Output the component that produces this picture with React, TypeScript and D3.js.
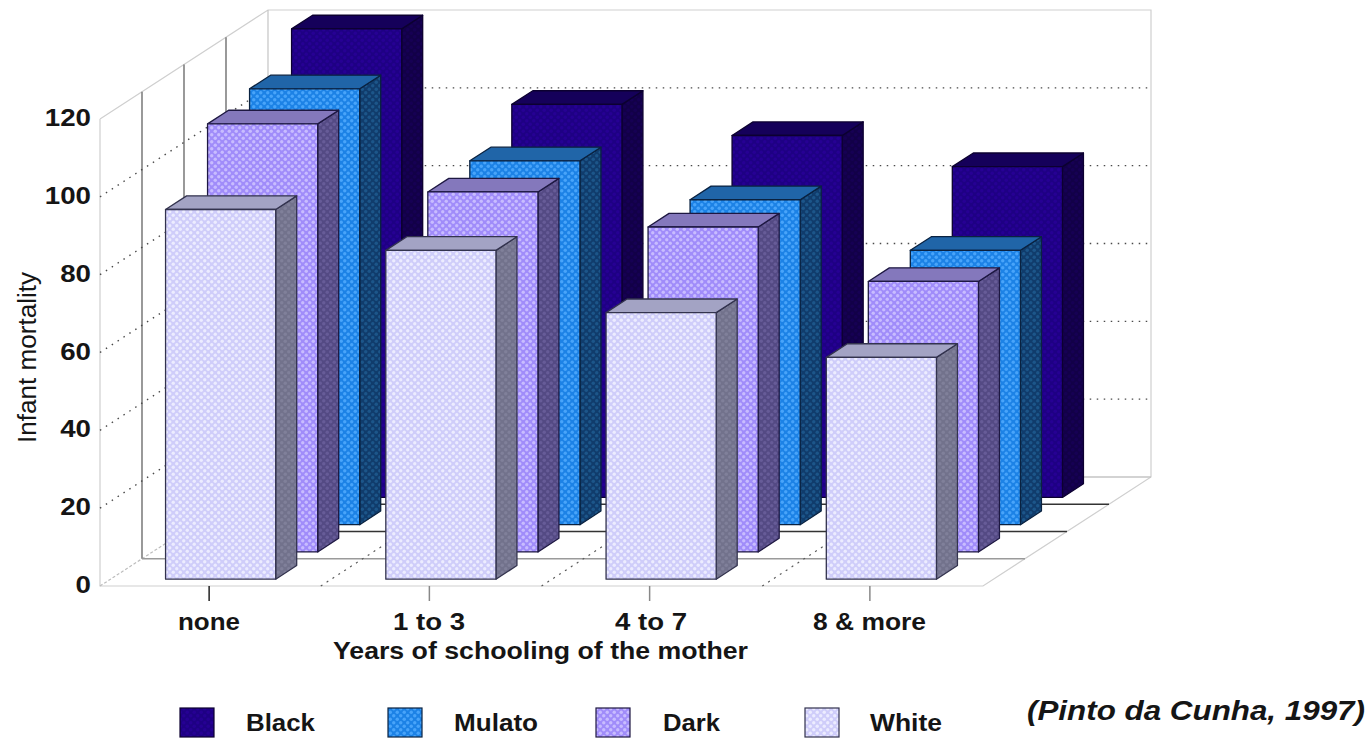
import React from "react";
import * as d3 from "d3";

// Infant mortality by mother's schooling and colour group
const schooling = ["none", "1 to 3", "4 to 7", "8 & more"];
const seriesNames = ["White", "Dark", "Mulato", "Black"];
const whiteValues = [95, 84.5, 68.5, 57];
const darkValues = [110, 92.5, 83.5, 69.5];
const mulatoValues = [112, 93.5, 83.5, 70.5];
const blackValues = [120.4, 101, 93, 85];
const seriesValues = [whiteValues, darkValues, mulatoValues, blackValues];
const valueTicks = [0, 20, 40, 60, 80, 100, 120];

// base, dot, top-face and side-face tones per series
const faceTones = [
  { key: "white", base: "#cfcdfa", dot: "#ececff", top: "#a3a3c4", side: "#72728c", sideDot: "#80809a", edge: "#33334e" },
  { key: "dark", base: "#a08cfa", dot: "#c8bcff", top: "#8478bc", side: "#544a84", sideDot: "#675c98", edge: "#1e1842" },
  { key: "mulato", base: "#1c82e6", dot: "#48a4fa", top: "#2065a8", side: "#103c6c", sideDot: "#1c568a", edge: "#0a2240" },
  { key: "black", base: "#1e0084", dot: "#260094", top: "#15005a", side: "#120048", sideDot: "#160054", edge: "#0c0030" },
];

const legendX = [180, 388, 596, 805];
const legendTextX = [246, 454, 663, 870];
const legendTextW = [69, 84, 57, 72];
const legendOrder = [3, 2, 1, 0];

const catLabelX = [178, 393, 615, 813];
const catLabelW = [62, 72, 72, 113];

const floorLeft = 100;
const floorRight = 983;
const floorY = 586;
const depthX = 168;
const depthY = -109;

const xBand = d3.scaleBand<string>().domain(schooling).range([floorLeft, floorRight - 2]).paddingInner(0.5).paddingOuter(0.25);
const xStep = d3.scaleBand<string>().domain(schooling).range([floorLeft, floorRight]);
const yValue = d3.scaleLinear().domain([0, 120]).range([0, 467]);
const dX = d3.scaleLinear().domain([0, 4]).range([0, depthX]);
const dY = d3.scaleLinear().domain([0, 4]).range([0, depthY]);

// oblique projection of (x on floor, value, depth slot)
const proj = (x: number, v: number, d: number): [number, number] => [x + dX(d), floorY - yValue(v) + dY(d)];
const poly = d3.line();

const FONT = "'Liberation Sans', Arial, sans-serif";

function Label(p: { x: number; y: number; w: number; size?: number; weight?: string; style?: string; rotate?: boolean; children: string }) {
  const { x, y, w, size = 23, weight = "bold", style = "normal", rotate, children } = p;
  return (
    <text
      x={x}
      y={y}
      transform={rotate ? `rotate(-90 ${x} ${y})` : undefined}
      textLength={w}
      lengthAdjust="spacingAndGlyphs"
      fontFamily={FONT}
      fontSize={size}
      fontWeight={weight}
      fontStyle={style}
      fill="#151515"
    >
      {children}
    </text>
  );
}

function Bar({ row, cat }: { row: number; cat: number }) {
  const t = faceTones[row];
  const v = seriesValues[row][cat];
  const x0 = xBand(schooling[cat])!;
  const x1 = x0 + xBand.bandwidth();
  const d0 = row + 0.25;
  const d1 = row + 0.75;
  const front = [proj(x0, 0, d0), proj(x1, 0, d0), proj(x1, v, d0), proj(x0, v, d0)];
  const top = [proj(x0, v, d0), proj(x1, v, d0), proj(x1, v, d1), proj(x0, v, d1)];
  const side = [proj(x1, 0, d0), proj(x1, 0, d1), proj(x1, v, d1), proj(x1, v, d0)];
  return (
    <g stroke={t.edge} strokeWidth={1.3} strokeLinejoin="round">
      <path d={poly(side)! + "Z"} fill={`url(#side-${t.key})`} />
      <path d={poly(top)! + "Z"} fill={t.top} />
      <path d={poly(front)! + "Z"} fill={`url(#front-${t.key})`} />
    </g>
  );
}

export default function App() {
  const rowsBackToFront = d3.range(3, -1, -1);
  return (
    <svg width={1371} height={738} style={{ position: "absolute", left: 0, top: 0, display: "block", background: "#fff" }}>
      <defs>
        {faceTones.map((t) => (
          <React.Fragment key={t.key}>
            <pattern id={`front-${t.key}`} width={7} height={7} patternUnits="userSpaceOnUse">
              <rect width={7} height={7} fill={t.base} />
              <circle cx={1.75} cy={1.75} r={1.7} fill={t.dot} />
              <circle cx={5.25} cy={5.25} r={1.7} fill={t.dot} />
            </pattern>
            <pattern id={`side-${t.key}`} width={7} height={7} patternUnits="userSpaceOnUse">
              <rect width={7} height={7} fill={t.side} />
              <circle cx={1.75} cy={1.75} r={1.7} fill={t.sideDot} />
              <circle cx={5.25} cy={5.25} r={1.7} fill={t.sideDot} />
            </pattern>
          </React.Fragment>
        ))}
      </defs>

      {/* walls and floor outline */}
      <g fill="none" stroke="#cfcfcf" strokeWidth={1.2}>
        <path d={poly([proj(floorLeft, 120, 0), proj(floorLeft, 0, 0), proj(floorRight, 0, 0), proj(floorRight, 0, 4), proj(floorRight, 120, 4), proj(floorLeft, 120, 4), proj(floorLeft, 120, 0)])!} />
        <path d={poly([proj(floorLeft, 0, 0), proj(floorLeft, 0, 4)])!} strokeDasharray="3 2" stroke="#bdbdbd" />
      </g>

      {/* slot separators on the side wall */}
      {[1, 2, 3, 4].map((d) => (
        <path key={d} d={poly([proj(floorLeft, 120, d), proj(floorLeft, 0, d)])!} fill="none" stroke={d === 4 ? "#c4c4c4" : "#808080"} strokeWidth={d === 4 ? 1.2 : 1.6} />
      ))}

      {/* slot separators on the floor */}
      {[1, 2, 3, 4].map((d) => (
        <path key={d} d={poly([proj(floorLeft, 0, d), proj(floorRight, 0, d)])!} fill="none" stroke={d === 4 ? "#c4c4c4" : d === 1 ? "#9a9a9a" : "#333"} strokeWidth={1.5} />
      ))}

      {/* value gridlines */}
      {valueTicks.filter((v) => v > 0 && v < 120).map((v) => (
        <path key={v} d={poly([proj(floorLeft, v, 0), proj(floorLeft, v, 4), proj(floorRight, v, 4)])!} fill="none" stroke="#4a4a4a" strokeWidth={1.4} strokeDasharray="1.5 5.5" />
      ))}

      {/* category boundaries on the floor */}
      {[1, 2, 3].map((i) => {
        const x = floorLeft + xStep.step() * i;
        return <path key={i} d={poly([proj(x, 0, 0), proj(x, 0, 4)])!} fill="none" stroke="#5a5a5a" strokeWidth={1.2} strokeDasharray="2 5" />;
      })}

      {/* bars, back row first */}
      {rowsBackToFront.map((row) => schooling.map((_, cat) => <Bar key={`${row}-${cat}`} row={row} cat={cat} />))}

      {/* category ticks */}
      {schooling.map((c, i) => {
        const x = xBand(c)! + xBand.bandwidth() / 2 - 1;
        return <line key={c} x1={x} x2={x} y1={floorY} y2={601} stroke={i === 0 ? "#222" : "#888"} strokeWidth={1.5} />;
      })}

      {/* value labels */}
      {valueTicks.map((v) => {
        const w = String(v).length * 15.4;
        return (
          <Label key={v} x={91 - w} y={floorY - yValue(v) + 7} w={w}>
            {String(v)}
          </Label>
        );
      })}
      <Label x={36} y={443} w={171} size={25} weight="normal" rotate>
        Infant mortality
      </Label>

      {schooling.map((c, i) => (
        <Label key={c} x={catLabelX[i]} y={630} w={catLabelW[i]}>
          {c}
        </Label>
      ))}
      <Label x={333} y={659} w={415}>
        Years of schooling of the mother
      </Label>

      {/* legend */}
      {legendOrder.map((row, i) => (
        <g key={row}>
          <rect x={legendX[i]} y={708} width={34} height={29} fill={`url(#front-${faceTones[row].key})`} stroke={faceTones[row].edge} strokeWidth={1.2} />
          <Label x={legendTextX[i]} y={731} w={legendTextW[i]}>
            {seriesNames[row]}
          </Label>
        </g>
      ))}

      <Label x={1027} y={720} w={338} size={27} style="italic">
        (Pinto da Cunha, 1997)
      </Label>
    </svg>
  );
}
